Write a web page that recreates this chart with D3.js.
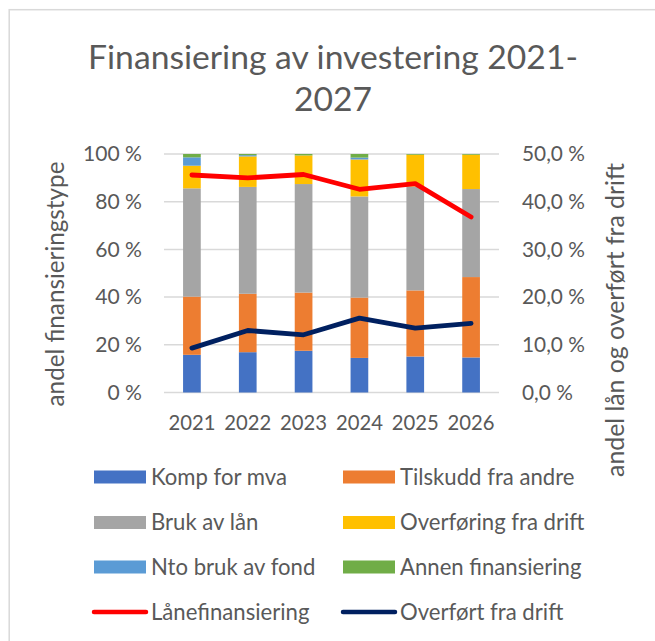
<!DOCTYPE html>
<html>
<head>
<meta charset="utf-8">
<script src="https://cdn.jsdelivr.net/npm/d3@7"></script>
<style>
  html, body { margin: 0; padding: 0; background: #fff; }
  svg { display: block; }
  text { font-family: Lato, "Open Sans", sans-serif; fill: #595959; }
</style>
</head>
<body>
<svg id="chart" width="655" height="641"></svg>
<script>
// ---------- DATA ----------
const years = ["2021", "2022", "2023", "2024", "2025", "2026"];
const seriesNames = ["Komp for mva", "Tilskudd fra andre", "Bruk av lån", "Overføring fra drift", "Nto bruk av fond", "Annen finansiering"];
const kompForMva      = [15.8, 16.9, 17.5, 14.5, 15.1, 14.7];
const tilskuddFraAndre = [24.4, 24.5, 24.4, 25.3, 27.7, 33.7];
const brukAvLan       = [45.4, 44.8, 45.5, 42.4, 43.6, 36.9];
const overforingDrift = [9.5, 12.8, 12.0, 15.5, 13.3, 14.4];
const ntoBrukAvFond   = [3.5, 0.5, 0.0, 0.8, 0.0, 0.0];
const annenFinans     = [1.4, 0.5, 0.6, 1.5, 0.3, 0.3];
const lanefinansiering = [45.6, 45.0, 45.7, 42.6, 43.8, 36.8];
const overfortFraDrift = [9.3, 13.0, 12.1, 15.6, 13.5, 14.5];
const leftTicks = [0, 0.2, 0.4, 0.6, 0.8, 1.0];
const rightTicks = [0, 0.1, 0.2, 0.3, 0.4, 0.5];
const lineNames = ["Lånefinansiering", "Overført fra drift"];

// ---------- STYLE ----------
const barColors = ["#4472C4", "#ED7D31", "#A5A5A5", "#FFC000", "#5B9BD5", "#70AD47"];
const lineColors = ["#FF0000", "#002060"];

const svg = d3.select("#chart");

// border
svg.append("rect").attr("x", 9.2).attr("y", 9.7).attr("width", 700).attr("height", 700)
  .attr("fill", "none").attr("stroke", "#d9d9d9").attr("stroke-width", 1.5);

const plot = { left: 164, right: 499, top: 154, bottom: 392.5 };

const x = d3.scaleBand().domain(years).range([plot.left, plot.right])
  .paddingInner(0.683).paddingOuter(0.683 / 2);
const yL = d3.scaleLinear().domain([0, 1]).range([plot.bottom, plot.top]);
const yR = d3.scaleLinear().domain([0, 0.5]).range([plot.bottom, plot.top]);

function fit(sel, target, base) {
  sel.style("font-size", base + "px");
  const w = sel.node().getComputedTextLength();
  return base * target / w;
}

// gridlines
svg.append("g").selectAll("line").data(leftTicks).join("line")
  .attr("x1", plot.left).attr("x2", plot.right)
  .attr("y1", d => yL(d)).attr("y2", d => yL(d))
  .attr("stroke", "#d9d9d9").attr("stroke-width", 1.5);

// stacked bars
const table = years.map((yr, i) => ({
  year: yr,
  [seriesNames[0]]: kompForMva[i] / 100,
  [seriesNames[1]]: tilskuddFraAndre[i] / 100,
  [seriesNames[2]]: brukAvLan[i] / 100,
  [seriesNames[3]]: overforingDrift[i] / 100,
  [seriesNames[4]]: ntoBrukAvFond[i] / 100,
  [seriesNames[5]]: annenFinans[i] / 100
}));
const stack = d3.stack().keys(seriesNames)(table);
svg.append("g").selectAll("g").data(stack).join("g")
  .attr("fill", (d, i) => barColors[i])
  .selectAll("rect").data(d => d).join("rect")
  .attr("x", d => x(d.data.year))
  .attr("width", x.bandwidth())
  .attr("y", d => yL(d[1]))
  .attr("height", d => Math.max(0, yL(d[0]) - yL(d[1])));

// lines
const lineGen = d3.line().x((d, i) => x(years[i]) + x.bandwidth() / 2).y(d => yR(d / 100));
[lanefinansiering, overfortFraDrift].forEach((arr, k) => {
  svg.append("path").datum(arr).attr("d", lineGen)
    .attr("fill", "none").attr("stroke", lineColors[k]).attr("stroke-width", 4.8)
    .attr("stroke-linejoin", "round").attr("stroke-linecap", "round");
});

// tick labels
const fmtL = d => Math.round(d * 100) + " %";
const fmtR = d => (d * 100).toFixed(1).replace(".", ",") + " %";
const tl = svg.append("g");
const probeL = tl.append("text").text(fmtL(1));
const sizeL = fit(probeL, 59, 20);
probeL.remove();
tl.selectAll("text").data(leftTicks).join("text")
  .attr("x", 142).attr("y", d => yL(d)).attr("dy", "0.35em")
  .attr("text-anchor", "end").style("font-size", sizeL + "px").text(fmtL);

const tr = svg.append("g");
const probeR = tr.append("text").text(fmtR(0.5));
const sizeR = fit(probeR, 63, 20);
probeR.remove();
tr.selectAll("text").data(rightTicks).join("text")
  .attr("x", 522).attr("y", d => yR(d)).attr("dy", "0.35em")
  .attr("text-anchor", "start").style("font-size", sizeR + "px").text(fmtR);

// x labels
const tx = svg.append("g");
const probeX = tx.append("text").text(years[0]);
const sizeX = fit(probeX, 47, 20);
probeX.remove();
tx.selectAll("text").data(years).join("text")
  .attr("x", d => x(d) + x.bandwidth() / 2).attr("y", 430)
  .attr("text-anchor", "middle").style("font-size", sizeX + "px").text(d => d);

// axis titles
const lt = svg.append("text").text("andel finansieringstype")
  .attr("text-anchor", "middle").attr("transform", "translate(64,284) rotate(-90)");
lt.style("font-size", fit(lt, 245, 20) + "px");
const rt = svg.append("text").text("andel lån og overført fra drift")
  .attr("text-anchor", "middle").attr("transform", "translate(624,320) rotate(-90)");
rt.style("font-size", fit(rt, 314, 20) + "px");

// title
const t1 = svg.append("text").text("Finansiering av investering 2021-")
  .attr("x", 333).attr("y", 69).attr("text-anchor", "middle");
const sizeT = fit(t1, 490, 30);
t1.style("font-size", sizeT + "px");
svg.append("text").text("2027").attr("x", 333).attr("y", 111)
  .attr("text-anchor", "middle").style("font-size", sizeT + "px");

// legend
const legendItems = seriesNames.map((n, i) => ({ name: n, type: "bar", color: barColors[i] }))
  .concat(lineNames.map((n, i) => ({ name: n, type: "line", color: lineColors[i] })));
const rowsY = [477, 522.5, 567, 612];
const colsX = [94, 343];
const lg = svg.append("g");
const probeG = lg.append("text").text(seriesNames[0]);
const sizeG = fit(probeG, 136, 20);
probeG.remove();
legendItems.forEach((d, i) => {
  const cx = colsX[i % 2], cy = rowsY[Math.floor(i / 2)];
  if (d.type === "bar") {
    lg.append("rect").attr("x", cx).attr("y", cy - 6.5).attr("width", 52).attr("height", 13).attr("fill", d.color);
  } else {
    lg.append("line").attr("x1", cx).attr("x2", cx + 52).attr("y1", cy).attr("y2", cy)
      .attr("stroke", d.color).attr("stroke-width", 4.5).attr("stroke-linecap", "round");
  }
  lg.append("text").attr("x", cx + 57).attr("y", cy).attr("dy", "0.35em")
    .style("font-size", sizeG + "px").text(d.name);
});
</script>
</body>
</html>
